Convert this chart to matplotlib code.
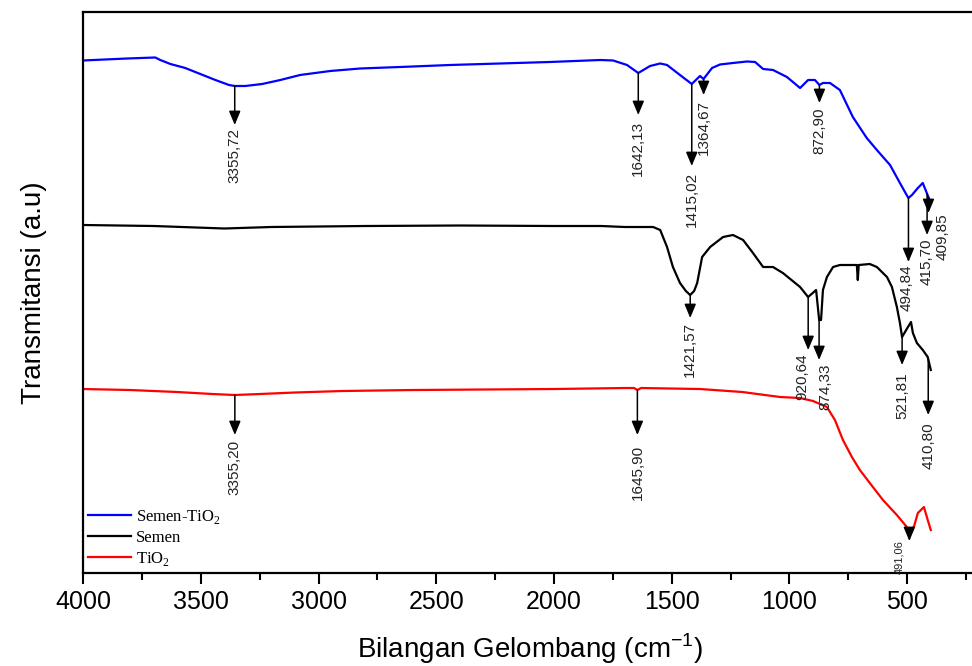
import numpy as np
import matplotlib.pyplot as plt
from matplotlib.ticker import MultipleLocator

# FTIR spectra, values (transmittance in arbitrary units)
wn_semen_tio2 = [4000, 3812, 3693, 3672, 3629, 3566, 3502, 3438, 3380, 3356, 3311, 3239, 3162,
                 3078, 2950, 2823, 2653, 2441, 2229, 2017, 1804, 1749, 1690, 1642, 1592,
                 1549, 1520, 1465, 1415, 1380, 1365, 1329, 1295, 1240, 1180, 1146, 1112,
                 1070, 1011, 955, 921, 892, 873, 858, 828, 786, 731, 672, 629, 573, 531,
                 505, 495, 480, 455, 434, 417, 400]
t_semen_tio2 = [512.5, 514.5, 515.5, 513, 509, 505, 499, 493, 488, 487, 487, 489, 493,
                498, 502, 504.5, 506, 508, 509.5, 511, 513, 512.5, 508, 500, 507,
                509.5, 508, 498, 489, 497, 494, 505, 508.5, 510, 511.5, 511, 504,
                503, 496, 485, 493, 493, 488, 490, 490, 483, 456, 435, 423, 408, 390,
                379, 375, 378, 385, 390, 380, 370]

wn_semen = [4000, 3700, 3400, 3200, 2800, 2400, 2000, 1800, 1700, 1579, 1549, 1520,
            1495, 1465, 1440, 1422, 1405, 1392, 1371, 1337, 1282, 1240, 1197, 1155, 1112, 1070,
            1028, 955, 921, 887, 874, 866, 858, 841, 815, 786, 714, 710, 706, 659,
            629, 586, 565, 544, 531, 522, 497, 484, 476, 459, 434, 413, 400]
t_semen = [348, 347, 344.5, 346, 347, 347.5, 347, 347, 346, 346, 343, 326,
           306, 290, 282, 278, 282, 290, 316, 326, 336, 338, 333, 320, 306, 306,
           300, 286, 276, 283, 253, 253, 283, 296, 306, 308, 308, 293, 308, 309,
           306, 296, 286, 266, 250, 236, 246, 251, 240, 230, 223, 216, 203]

wn_tio2 = [4000, 3800, 3600, 3450, 3356, 3250, 3100, 2900, 2600, 2300, 2000, 1700,
           1660, 1646, 1630, 1380, 1200, 1040, 955, 900, 841, 807, 773, 735, 701,
           659, 603, 544, 491, 472, 455, 429, 413, 400]
t_tio2 = [184, 183, 181, 179, 178, 179, 180.5, 182, 183, 183.5, 184, 185,
          185, 183, 185, 184, 181, 176, 175, 172, 166, 153, 133, 116, 103,
          90, 73, 58, 43, 46, 60, 66, 53, 43]

series = [
    ("Semen-TiO$_\\mathregular{2}$", wn_semen_tio2, t_semen_tio2, "#0000ff"),
    ("Semen", wn_semen, t_semen, "black"),
    ("TiO$_\\mathregular{2}$", wn_tio2, t_tio2, "#ff0000"),
]

# peak labels: (series index, wavenumber, label)
peaks = [
    (0, 3355.72, "3355,72"), (0, 1642.13, "1642,13"), (0, 1415.02, "1415,02"),
    (0, 1364.67, "1364,67"), (0, 872.90, "872,90"), (0, 494.84, "494,84"),
    (0, 415.70, "415,70"), (0, 409.85, "409,85"),
    (1, 1421.57, "1421,57"), (1, 920.64, "920,64"), (1, 874.33, "874,33"),
    (1, 521.81, "521,81"), (1, 410.80, "410,80"),
    (2, 3355.20, "3355,20"), (2, 1645.90, "1645,90"), (2, 491.06, "491,06"),
]
# layout for each label: arrow tip y, text top y, text x shift, font size
peak_layout = [
    (448, 445, 0, 11), (458, 452, 0, 11), (407, 401, 0, 11),
    (478, 473, 0, 11), (470, 465, 0, 11), (311, 309, 8, 11),
    (338, 335, 0, 11), (360, 360, -61, 11),
    (255, 251, 0, 11), (223, 220, 25, 11), (213, 210, -27, 11),
    (208, 201, 0, 11), (158, 151, 0, 11),
    (138, 133, 0, 11), (138, 128, 0, 11), (32, 33, 42, 8),
]

plt.rcParams['font.family'] = ['Liberation Sans', 'DejaVu Sans']

fig = plt.figure(figsize=(9.72, 6.66), dpi=100)
ax = fig.add_axes([0.0854, 0.1396, 0.9146, 0.8424])

for name, wn, t, col in series:
    ax.plot(wn, t, color=col, lw=1.6, label=name)

for (si, w, lab), (tip, ttop, dx, fs) in zip(peaks, peak_layout):
    wn, t = series[si][1], series[si][2]
    y0 = np.interp(w, wn[::-1], t[::-1])
    ax.annotate("", xy=(w, tip), xytext=(w, y0),
                arrowprops=dict(arrowstyle='-|>,head_length=0.6,head_width=0.25',
                                mutation_scale=14, lw=1.1, color='black',
                                shrinkA=0, shrinkB=0))
    ax.text(w + dx, ttop, lab, rotation=90, ha='center', va='top',
            fontsize=fs, color='#222222')

ax.set_xlim(4000, 225)
ax.set_ylim(0, 561)
ax.xaxis.set_major_locator(MultipleLocator(500))
ax.xaxis.set_minor_locator(MultipleLocator(250))
ax.tick_params(axis='x', which='major', length=8, width=1.5, labelsize=18, pad=4)
ax.tick_params(axis='x', which='minor', length=5, width=1.5)
ax.set_yticks([])
ax.spines['right'].set_visible(False)
for s in ['left', 'bottom', 'top']:
    ax.spines[s].set_linewidth(1.6)

ax.set_xlabel("Bilangan Gelombang (cm$^{\\mathregular{-1}}$)", fontsize=20)
ax.xaxis.set_label_coords(0.503, -0.105)
ax.set_ylabel("Transmitansi (a.u)", fontsize=20)
ax.yaxis.set_label_coords(-0.04, 0.5)

ax.legend(loc='lower left', bbox_to_anchor=(0.0, 0.0), frameon=False,
          prop={'family': 'Liberation Serif', 'size': 12}, handlelength=2.6,
          handletextpad=0.3, labelspacing=0.25, borderpad=0.2, borderaxespad=0.1)

fig.savefig("out.png", dpi=100)
